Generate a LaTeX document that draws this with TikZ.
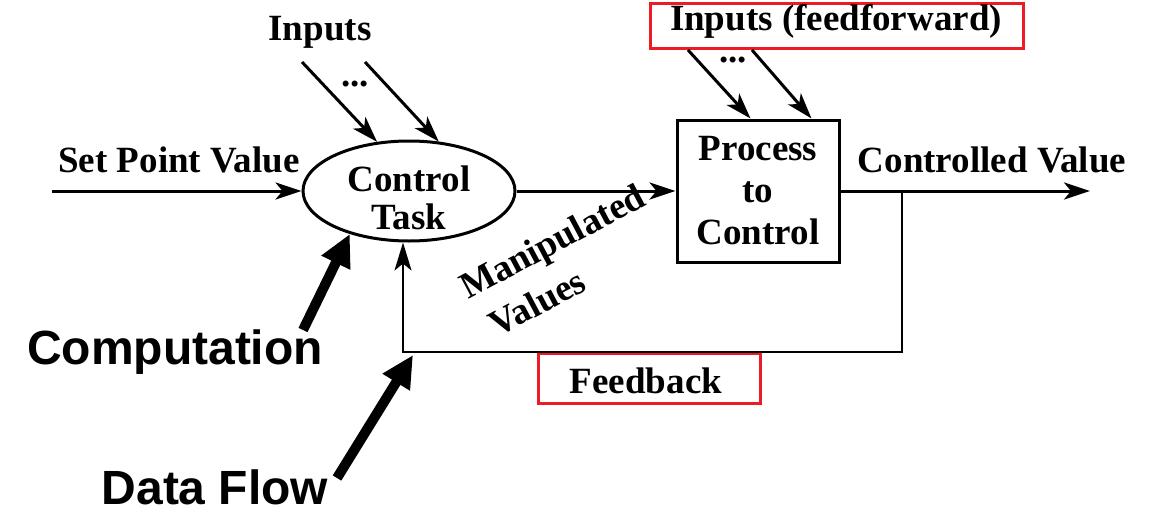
\documentclass[tikz,border=0pt]{standalone}
\usepackage{fontspec}
\setmainfont{Liberation Serif}
\newfontfamily\arialfont{Liberation Sans}
\usetikzlibrary{arrows.meta,shapes.geometric}
\definecolor{boxred}{RGB}{237,28,36}
\tikzset{
  lbl/.style={font=\fontsize{37}{40}\selectfont\bfseries, inner sep=0pt},
  big/.style={font=\fontsize{48}{52}\selectfont\arialfont\bfseries, inner sep=0pt},
  arr/.style={line width=3pt, -{Stealth[length=26pt,width=17pt,inset=7pt]}},
  farr/.style={line width=2.2pt, -{Stealth[length=28pt,width=17pt,inset=7pt]}},
  fat/.style={line width=10pt, -{Triangle[length=32pt,width=30pt]}},
  redbox/.style={draw=boxred, line width=3pt},
}
\begin{document}
\begin{tikzpicture}[x=1pt,y=-1pt]
\useasboundingbox (0,0) rectangle (1174,514);
% nodes
\node[ellipse, draw, line width=3pt, minimum width=212pt, minimum height=100pt, inner sep=0pt] (ct) at (409,191) {};
\node[lbl, align=center] (cttext) at (409,198) {Control\\[-2pt]Task};
\node[draw, line width=3pt, minimum width=162pt, minimum height=142pt, inner sep=0pt] (pc) at (758,191) {};
\node[lbl, align=center] (pctext) at (758,191) {Process\\[2pt]to\\[2pt]Control};
% labels
\node[lbl] (sptext) at (179,160) {Set Point Value};
\node[lbl] (cvtext) at (992,160) {Controlled Value};
\node[lbl] (intext) at (320,32) {Inputs};
\node[lbl] (dots1) at (355,84) {...};
\node[lbl] (dots2) at (733,60) {...};
\node[redbox, minimum width=373pt, minimum height=45pt, inner sep=0pt] (ffbox) at (836.5,25.5) {};
\node[lbl] (fftext) at (836,21) {Inputs (feedforward)};
\node[redbox, minimum width=222pt, minimum height=50pt, inner sep=0pt] (fbbox) at (649,378) {};
\node[lbl] (fbtext) at (646,381) {Feedback};
\node[lbl, rotate=28, anchor=base west] (mv1) at (468,300) {Manipulated};
\node[lbl, rotate=28, anchor=base west] (mv2) at (497,338) {Values};
\node[big] (comp) at (175,352) {Computation};
\node[big] (df) at (215,487) {Data Flow};
% coordinates
\coordinate (sp) at (52,191);
\coordinate (out) at (1090,191);
\coordinate (fb1) at (902,191);
\coordinate (fb2) at (403,352);
\coordinate (in1) at (302,62);
\coordinate (in2) at (365,62);
\coordinate (ff1) at (688,50);
\coordinate (ff2) at (752,50);
\coordinate (cs) at (303,330);
\coordinate (ds) at (337,478);
\coordinate (dt) at (413,355);
% connectors
\draw[arr] (sp) -- (ct.west);
\draw[arr] (ct.east) -- (pc.west);
\draw[arr] (pc.east) -- (out);
\draw[arr] (in1) -- (ct.123);
\draw[arr] (in2) -- (ct.59);
\draw[arr] (ff1) -- ([xshift=75pt]pc.north west);
\draw[arr] (ff2) -- ([xshift=136pt]pc.north west);
\draw[farr] (fb1) |- (fb2) -- (ct.south -| fb2);
\draw[fat] (cs) -- (ct.216);
\draw[fat] (ds) -- (dt);
\end{tikzpicture}
\end{document}
